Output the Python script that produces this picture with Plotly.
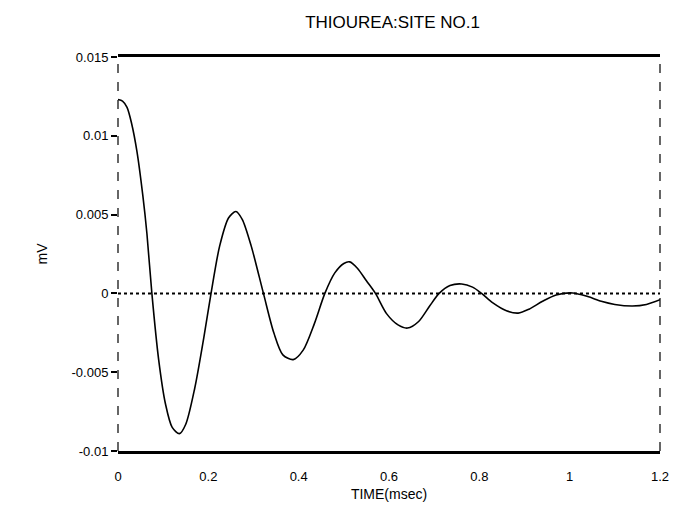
import plotly.graph_objects as go

# Time (msec) and signal (mV)
time_ms = [0, 0.01, 0.02, 0.03, 0.042, 0.055, 0.064, 0.075, 0.09, 0.105, 0.12, 0.136,
           0.15, 0.17, 0.19, 0.206, 0.225, 0.245, 0.261, 0.275, 0.295, 0.322, 0.345,
           0.365, 0.388, 0.41, 0.435, 0.458, 0.48, 0.5, 0.513, 0.53, 0.55, 0.57, 0.595,
           0.62, 0.641, 0.665, 0.69, 0.711, 0.735, 0.761, 0.785, 0.805, 0.83, 0.86,
           0.886, 0.91, 0.94, 0.97, 1.007, 1.04, 1.07, 1.1, 1.139, 1.17, 1.2]
signal_mv = [0.0123, 0.0122, 0.0118, 0.0108, 0.0090, 0.0062, 0.0038, 0.0000, -0.0042,
             -0.0070, -0.0085, -0.0089, -0.0083, -0.0060, -0.0028, 0.0000, 0.0030,
             0.0048, 0.0052, 0.0047, 0.0030, 0.0000, -0.0025, -0.0039, -0.0042, -0.0036,
             -0.0019, 0.0000, 0.0013, 0.0019, 0.0020, 0.0016, 0.0008, 0.0000, -0.0013,
             -0.0020, -0.0022, -0.0018, -0.0008, 0.0000, 0.0005, 0.0006, 0.0004, 0.0000,
             -0.0006, -0.0011, -0.00125, -0.0010, -0.0005, -0.0001, 0.00003, -0.0002,
             -0.0005, -0.0007, -0.0008, -0.0007, -0.0004]

baseline_x = [0, 1.2]
baseline_y = [0, 0]

x_ticks = [0, 0.2, 0.4, 0.6, 0.8, 1, 1.2]
x_tick_labels = ["0", "0.2", "0.4", "0.6", "0.8", "1", "1.2"]
y_ticks = [-0.01, -0.005, 0, 0.005, 0.01, 0.015]
y_tick_labels = ["-0.01", "-0.005", "0", "0.005", "0.01", "0.015"]

FONT = "Liberation Sans, Arial, sans-serif"

fig = go.Figure()
fig.add_trace(go.Scatter(x=baseline_x, y=baseline_y, mode="lines",
                         line=dict(color="black", width=2, dash="dot"),
                         hoverinfo="skip", showlegend=False))
fig.add_trace(go.Scatter(x=time_ms, y=signal_mv, mode="lines",
                         line=dict(color="black", width=1.6, shape="spline", smoothing=0.8),
                         showlegend=False))

# left/right dashed frame sides
for xp in (0, 1):
    fig.add_shape(type="line", xref="paper", yref="paper", x0=xp, x1=xp, y0=0, y1=1,
                  line=dict(color="black", width=1.2, dash="dash"))

fig.update_layout(
    width=681, height=512,
    margin=dict(l=118, r=14, t=57, b=59),
    paper_bgcolor="white", plot_bgcolor="white",
    font=dict(family=FONT, color="black", size=13),
    title=dict(text="THIOUREA:SITE NO.1", x=(118 + 667) / 2 / 681, xanchor="center",
               y=1 - 22 / 512, yanchor="middle", yref="container",
               font=dict(size=17, family=FONT, color="black")),
    xaxis=dict(range=[0, 1.2], tickvals=x_ticks, ticktext=x_tick_labels,
               showgrid=False, zeroline=False, showline=True, linecolor="black",
               linewidth=2.5, mirror=True, ticks="", ticklen=0,
               ticklabelstandoff=12,
               tickfont=dict(size=13, family=FONT),
               title=dict(text="TIME(msec)", standoff=6, font=dict(size=14, family=FONT))),
    yaxis=dict(range=[-0.01, 0.015], tickvals=y_ticks, ticktext=y_tick_labels,
               showgrid=False, zeroline=False, showline=False,
               ticks="outside", ticklen=6, tickcolor="black", tickwidth=1.5,
               tickfont=dict(size=13, family=FONT),
               title=dict(text="mV", standoff=20, font=dict(size=14, family=FONT))),
)

fig.write_html("out.html")
